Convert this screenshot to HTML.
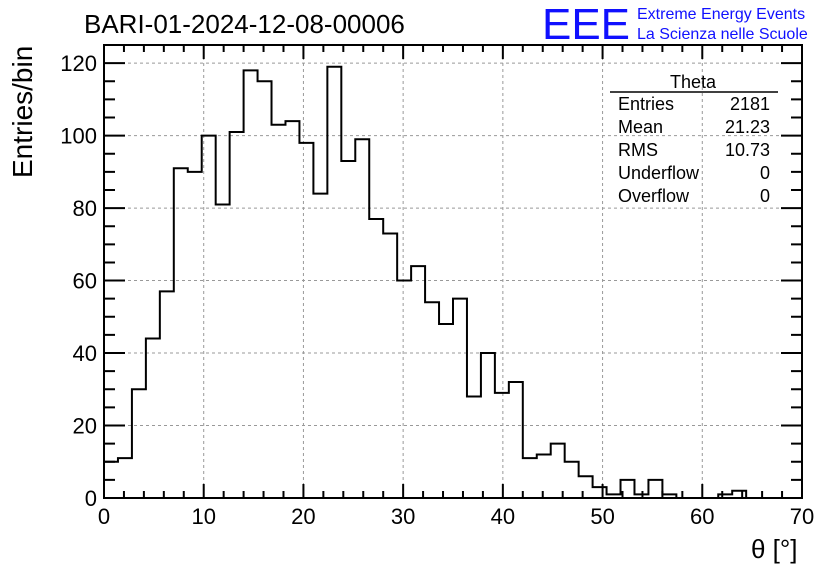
<!DOCTYPE html>
<html><head><meta charset="utf-8"><style>
body{margin:0;background:#fff;width:836px;height:572px;overflow:hidden}
svg text{font-family:"Liberation Sans",sans-serif}
</style></head><body>
<svg id="chart" width="836" height="572" xmlns="http://www.w3.org/2000/svg">
<g id="grid"></g>
<g id="axes"></g>
<path id="hist" fill="none" stroke="#000" stroke-width="2"/>
<text x="84" y="33" font-size="26">BARI-01-2024-12-08-00006</text>
<text x="542" y="39" font-size="44" fill="#1010ff" textLength="88" lengthAdjust="spacingAndGlyphs">EEE</text>
<text x="637" y="19" font-size="16" fill="#1010ff">Extreme Energy Events</text>
<text x="637" y="39" font-size="16" fill="#1010ff">La Scienza nelle Scuole</text>
<text transform="translate(32,178) rotate(-90)" font-size="28">Entries/bin</text>
<text x="751" y="558" font-size="26">θ [°]</text>
<g font-size="18">
<text x="693" y="88" text-anchor="middle">Theta</text>
<line x1="610" y1="92" x2="778" y2="92" stroke="#000" stroke-width="1.5"/>
<text x="618" y="110">Entries</text><text x="770" y="110" text-anchor="end">2181</text>
<text x="618" y="133">Mean</text><text x="770" y="133" text-anchor="end">21.23</text>
<text x="618" y="156">RMS</text><text x="770" y="156" text-anchor="end">10.73</text>
<text x="618" y="179">Underflow</text><text x="770" y="179" text-anchor="end">0</text>
<text x="618" y="202">Overflow</text><text x="770" y="202" text-anchor="end">0</text>
</g>
</svg>
<script>
const counts=[10,11,30,44,57,91,90,100,81,101,118,115,103,104,98,84,119,93,99,77,73,60,64,54,48,55,28,40,29,32,11,12,15,10,6,3,1,5,1,5,1,0,0,0,1,2,0,0,0,0];
const xTicks=[0,10,20,30,40,50,60,70];
const yTicks=[0,20,40,60,80,100,120];
const xMin=0,xMax=70,yMax=125,binW=1.4;
const L=104,R=802,T=45,B=498;
const sx=v=>L+(v-xMin)/(xMax-xMin)*(R-L);
const sy=v=>B-v/yMax*(B-T);
const NS='http://www.w3.org/2000/svg';
function mk(p,tag,a){const e=document.createElementNS(NS,tag);for(const k in a)e.setAttribute(k,a[k]);p.appendChild(e);return e;}
const grid=document.getElementById('grid'),axes=document.getElementById('axes');
xTicks.forEach(t=>{if(t>xMin&&t<xMax){const g=mk(grid,'line',{x1:sx(t),x2:sx(t),y1:T,y2:B,stroke:'#999','stroke-dasharray':'3,3'});

}
const tx=mk(axes,'text',{x:sx(t),y:524,'font-size':22,'text-anchor':'middle'});tx.textContent=t;

});
yTicks.forEach(t=>{if(t>0){const g=mk(grid,'line',{x1:L,x2:R,y1:sy(t),y2:sy(t),stroke:'#999','stroke-dasharray':'3,3'});

}
const tx=mk(axes,'text',{x:97,y:sy(t)+8,'font-size':22,'text-anchor':'end'});tx.textContent=t;

});
let d='';
for(let v=xMin;v<=xMax;v+=2){const len=(v%10===0)?14:7;d+=`M${sx(v)},${B}v${-len}M${sx(v)},${T}v${len}`;}
for(let v=0;v<=yMax;v+=5){const len=(v%20===0)?21:11;d+=`M${L},${sy(v)}h${len}M${R},${sy(v)}h${-len}`;}
const tk=mk(axes,'path',{d:d,stroke:'#000','stroke-width':2,fill:'none'});


const fr=mk(axes,'rect',{x:L,y:T,width:R-L,height:B-T,fill:'none',stroke:'#000','stroke-width':2});


let p=`M${sx(0)},${sy(0)}`;
counts.forEach((c,i)=>{p+=`L${sx(i*binW)},${sy(c)}L${sx((i+1)*binW)},${sy(c)}`;});
p+=`L${sx(counts.length*binW)},${sy(0)}`;
document.getElementById('hist').setAttribute('d',p);
</script>
</body></html>
